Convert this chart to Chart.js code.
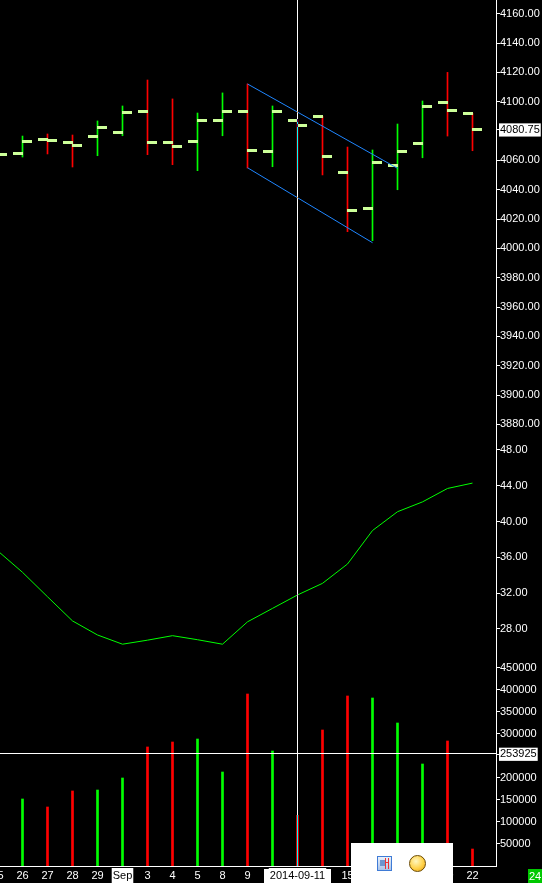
<!DOCTYPE html>
<html><head><meta charset="utf-8">
<script src="https://cdn.jsdelivr.net/npm/chart.js@4.4.1/dist/chart.umd.min.js"></script>
<style>
html,body{margin:0;padding:0;background:#000;overflow:hidden;}
#wrap{position:relative;width:542px;height:883px;background:#000;}
canvas{display:block;}
#popup{position:absolute;left:351px;top:843px;width:102px;height:40px;background:#fff;}
#ico1{position:absolute;left:26px;top:13px;width:13px;height:13px;border:1px solid #3f7bd6;background:linear-gradient(#e9f1fb,#a9c4ea);}
#ico1 .a{position:absolute;left:2px;top:3px;width:5px;height:6px;background:#6d95cf;}
#ico1 .b{position:absolute;left:7px;top:1px;width:1px;height:11px;background:#e33;}
#ico1 .c{position:absolute;left:10px;top:1px;width:1px;height:11px;background:#e33;}
#ico1 .d{position:absolute;left:7px;top:5px;width:4px;height:1px;background:#e33;}
#ico2{position:absolute;left:58px;top:12px;width:15px;height:15px;border:1px solid #6b4a00;border-radius:50%;background:radial-gradient(circle at 40% 35%,#fff7c0,#ffd24a 55%,#e59a10);}
#badge{position:absolute;left:528px;top:869px;width:14px;height:14px;background:#00c800;color:#fff;font:11px 'Liberation Sans',sans-serif;line-height:14px;overflow:hidden;white-space:nowrap;padding-left:1px;box-sizing:border-box;}
</style></head>
<body><div id="wrap"><canvas id="c" width="542" height="883"></canvas>
<div id="popup"><div id="ico1"><div class="a"></div><div class="b"></div><div class="c"></div><div class="d"></div></div><div id="ico2"></div></div>
<div id="badge">24</div></div>
<script>
// ---- data ----
const xLabels = ['25','26','27','28','29','Sep','3','4','5','8','9','10','11','12','15','16','17','18','19','22'];
const opens  = [4064.0,4064.5,4074.4,4072.3,4076.4,4079.2,4093.5,4072.3,4073.0,4087.3,4093.5,4066.4,4087.3,4090.0,4051.9,4027.3,4056.7,4071.7,4099.6,4092.1];
const highs  = [4066.0,4076.6,4078.0,4077.3,4086.9,4097.1,4114.8,4101.9,4092.3,4106.0,4112.1,4097.1,4087.3,4090.0,4069.1,4067.1,4084.8,4100.5,4120.0,4092.1];
const lows   = [4062.0,4062.3,4064.4,4055.5,4063.2,4076.8,4063.9,4057.1,4053.0,4076.8,4054.8,4055.7,4053.5,4050.1,4011.4,4005.3,4040.0,4061.8,4076.6,4066.6];
const closes = [4064.0,4073.0,4073.7,4070.3,4082.6,4092.8,4072.3,4069.6,4087.3,4093.5,4066.9,4093.5,4083.9,4062.8,4026.0,4058.7,4066.4,4096.9,4093.7,4080.75];
const indicator = [36.75,34.33,31.6,28.9,27.33,26.3,26.75,27.25,26.8,26.3,28.8,30.3,31.8,33.1,35.26,39.0,41.1,42.2,43.7,44.3];
const volumes = [null,152300,134100,170500,172700,200000,270500,281800,288600,213600,390900,261400,115200,309100,386400,381800,325000,231800,284100,38600];
const channelUpper = [[10,4112.1],[16,4054.6]];
const channelLower = [[10,4055.0],[15,4003.9]];
const priceTicks = [3880,3900,3920,3940,3960,3980,4000,4020,4040,4060,4080.75,4100,4120,4140,4160];
const indTicks = [28,32,36,40,44,48];
const volTicks = [50000,100000,150000,200000,253925,300000,350000,400000,450000];
const lastPrice = 4080.75;
const crossIndex = 12;
const crossDate = '2014-09-11';
const crossVolume = 253925;
const highlightLabels = ['Sep'];

// ---- styles ----
const RED = '#ff0000', GREEN = '#00ff00', TICKC = '#ccff99', BLUE = '#1f86ff', WHITE = '#ffffff';
Chart.defaults.font.family = "'Liberation Sans', Arial, sans-serif";
Chart.defaults.font.size = 11;
Chart.defaults.color = WHITE;

const idx = xLabels.map((_, i) => i);
const isUp = i => closes[i] >= opens[i];
const barColor = i => isUp(i) ? GREEN : RED;

function tickImage(side) {
  const c = document.createElement('canvas');
  c.width = 21; c.height = 3;
  const g = c.getContext('2d');
  g.fillStyle = TICKC;
  if (side === 'open') g.fillRect(1, 0, 10, 3); else g.fillRect(10, 0, 10, 3);
  return c;
}
const openImg = tickImage('open');
const closeImg = tickImage('close');

const crosshair = {
  id: 'crosshair',
  beforeDraw(chart) {
    // white box behind the crosshair date label on the time axis
    const { ctx, scales } = chart;
    const xs = scales.x;
    const cx = xs.getPixelForValue(crossIndex);
    ctx.save();
    ctx.font = "11px 'Liberation Sans', Arial, sans-serif";
    const w = ctx.measureText(crossDate).width + 12;
    ctx.fillStyle = WHITE;
    ctx.fillRect(Math.round(cx - w / 2), xs.top + 3, Math.round(w), xs.bottom - xs.top - 3);
    ctx.restore();
  },
  beforeDatasetsDraw(chart) { chart.ctx.imageSmoothingEnabled = false; },
  afterDatasetsDraw(chart) {
    const { ctx, chartArea: a, scales } = chart;
    ctx.imageSmoothingEnabled = true;
    const x = Math.round(scales.x.getPixelForValue(crossIndex) - 0.5) + 0.5;
    const y = Math.round(scales.yVol.getPixelForValue(crossVolume)) - 0.5;
    ctx.save();
    ctx.lineWidth = 1;
    ctx.strokeStyle = WHITE;
    ctx.globalCompositeOperation = 'difference';
    ctx.beginPath(); ctx.moveTo(x, a.top); ctx.lineTo(x, a.bottom); ctx.stroke();
    ctx.globalCompositeOperation = 'source-over';
    ctx.beginPath(); ctx.moveTo(a.left, y); ctx.lineTo(a.right, y); ctx.stroke();
    ctx.restore();
  }
};

const yCommon = (ticksArr, fmt, hiValue) => ({
  type: 'linear', position: 'right', stack: 'r',
  grid: { display: true, drawOnChartArea: false, drawTicks: true, tickLength: 4, color: WHITE, lineWidth: 1 },
  border: { display: true, color: WHITE, width: 1 },
  afterBuildTicks: s => { s.ticks = ticksArr.map(v => ({ value: v })); },
  afterFit: s => { s.width = 46; s.paddingTop = 0; s.paddingBottom = 0; },
  ticks: {
    autoSkip: false, padding: 0,
    callback: v => fmt(v),
    color: ctx => (ctx.tick && ctx.tick.value === hiValue) ? '#000' : WHITE,
    showLabelBackdrop: ctx => !!(ctx.tick && ctx.tick.value === hiValue),
    backdropColor: WHITE,
    backdropPadding: { left: 1, right: 1, top: 0, bottom: 0 }
  }
});

const xHighlighted = i => i === crossIndex || highlightLabels.includes(xLabels[i]);

new Chart(document.getElementById('c'), {
  data: {
    datasets: [
      { type: 'line', data: channelUpper.map(p => ({ x: p[0], y: p[1] })), yAxisID: 'yPrice', borderColor: BLUE, borderWidth: 1, pointRadius: 0, tension: 0 },
      { type: 'line', data: channelLower.map(p => ({ x: p[0], y: p[1] })), yAxisID: 'yPrice', borderColor: BLUE, borderWidth: 1, pointRadius: 0, tension: 0 },
      { type: 'line', data: idx.map(i => ({ x: i, y: opens[i] })), yAxisID: 'yPrice', showLine: false, pointStyle: openImg, pointRadius: 4, pointHoverRadius: 4, pointBorderWidth: 0 },
      { type: 'line', data: idx.map(i => ({ x: i, y: closes[i] })), yAxisID: 'yPrice', showLine: false, pointStyle: closeImg, pointRadius: 4, pointHoverRadius: 4, pointBorderWidth: 0 },
      { type: 'bar', data: idx.map(i => ({ x: i, y: [lows[i], highs[i]] })), yAxisID: 'yPrice', backgroundColor: idx.map(barColor), barThickness: 1, maxBarThickness: 1, grouped: false, borderWidth: 0 },
      { type: 'bar', data: idx.map(i => ({ x: i, y: volumes[i] })), yAxisID: 'yVol', backgroundColor: idx.map(barColor), barThickness: 2, maxBarThickness: 2, grouped: false, borderWidth: 0 },
      { type: 'line', data: idx.map(i => ({ x: i, y: indicator[i] })), yAxisID: 'yInd', borderColor: GREEN, borderWidth: 1, pointRadius: 0, tension: 0 }
    ]
  },
  options: {
    responsive: false, animation: false, devicePixelRatio: 1, events: [],
    layout: { padding: 0, autoPadding: false },
    plugins: { legend: { display: false }, tooltip: { enabled: false } },
    scales: {
      x: {
        type: 'linear', position: 'bottom', min: 0.1, max: 19.94, offset: false,
        grid: { display: false, drawTicks: false },
        border: { display: true, color: WHITE, width: 1 },
        afterBuildTicks: s => { s.ticks = idx.map(v => ({ value: v })); },
        afterFit: s => { s.height = 17; s.paddingLeft = 0; s.paddingRight = 0; },
        ticks: {
          autoSkip: false, maxRotation: 0, minRotation: 0, padding: 3,
          callback: (v) => {
            if (v === crossIndex) return crossDate;
            if (Math.abs(v - crossIndex) === 1) return '';
            return xLabels[v];
          },
          color: ctx => (ctx.tick && xHighlighted(ctx.tick.value)) ? '#000' : WHITE,
          showLabelBackdrop: ctx => !!(ctx.tick && xHighlighted(ctx.tick.value)),
          backdropColor: WHITE,
          backdropPadding: { left: 1, right: 1, top: 1, bottom: 4 }
        }
      },
      yPrice: Object.assign(yCommon(priceTicks, v => v.toFixed(2), lastPrice), { stackWeight: 437, min: 3871.45, max: 4169.34 }),
      yInd: Object.assign(yCommon(indTicks, v => v.toFixed(2), null), { stackWeight: 225, min: 24.31, max: 49.45 }),
      yVol: Object.assign(yCommon(volTicks, v => String(v), crossVolume), { stackWeight: 204, min: 0, max: 463636 })
    }
  },
  plugins: [crosshair]
});
</script>
</body></html>
